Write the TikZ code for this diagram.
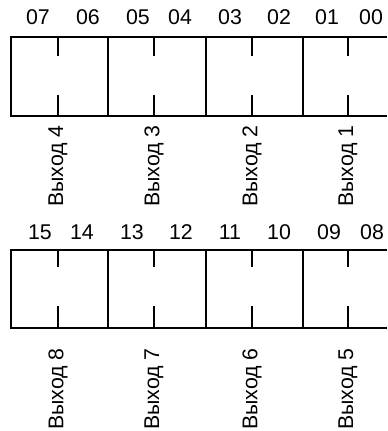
\documentclass[tikz,border=0pt]{standalone}
\usepackage{fontspec}
\setmainfont{Liberation Sans}
\usetikzlibrary{positioning}

\begin{document}
\begin{tikzpicture}[
    x=0.75pt, y=-0.75pt,
    frame/.style={draw, line width=0.8pt},
    bittick/.style={draw, line width=0.8pt},
    bitlbl/.style={font=\fontsize{16}{19}\selectfont, inner sep=0pt},
    outlbl/.style={font=\fontsize{16}{19}\selectfont, rotate=90, inner sep=0pt}
]
\useasboundingbox (0,0) rectangle (387,431);

%% Upper register (bits 07..00)
\draw[frame] (387,37) -- (11,37) -- (11,116) -- (387,116);
\foreach \x in {108,206,303} \draw[frame] (\x,37) -- (\x,116);
\foreach \x in {58,154,252,348} {
  \draw[bittick] (\x,37) -- (\x,56);
  \draw[bittick] (\x,95) -- (\x,116);
}
\foreach \b/\x in {07/38,06/88,05/138,04/180,03/230,02/279,01/327,00/371}
  \node[bitlbl] (b\b) at (\x,17.5) {\b};
\foreach \n/\x in {4/58,3/154,2/252,1/348}
  \node[outlbl] (out\n) at (\x,166) {Выход \n};

%% Lower register (bits 15..08)
\draw[frame] (387,250) -- (11,250) -- (11,328) -- (387,328);
\foreach \x in {108,206,303} \draw[frame] (\x,250) -- (\x,328);
\foreach \x in {58,154,252,348} {
  \draw[bittick] (\x,250) -- (\x,267);
  \draw[bittick] (\x,306) -- (\x,328);
}
\foreach \b/\x in {15/40,14/82,13/132,12/181,11/230,10/279,09/329,08/372}
  \node[bitlbl] (b\b) at (\x,232.5) {\b};
\foreach \n/\x in {8/58,7/154,6/252,5/348}
  \node[outlbl] (out\n) at (\x,389) {Выход \n};

\end{tikzpicture}
\end{document}
